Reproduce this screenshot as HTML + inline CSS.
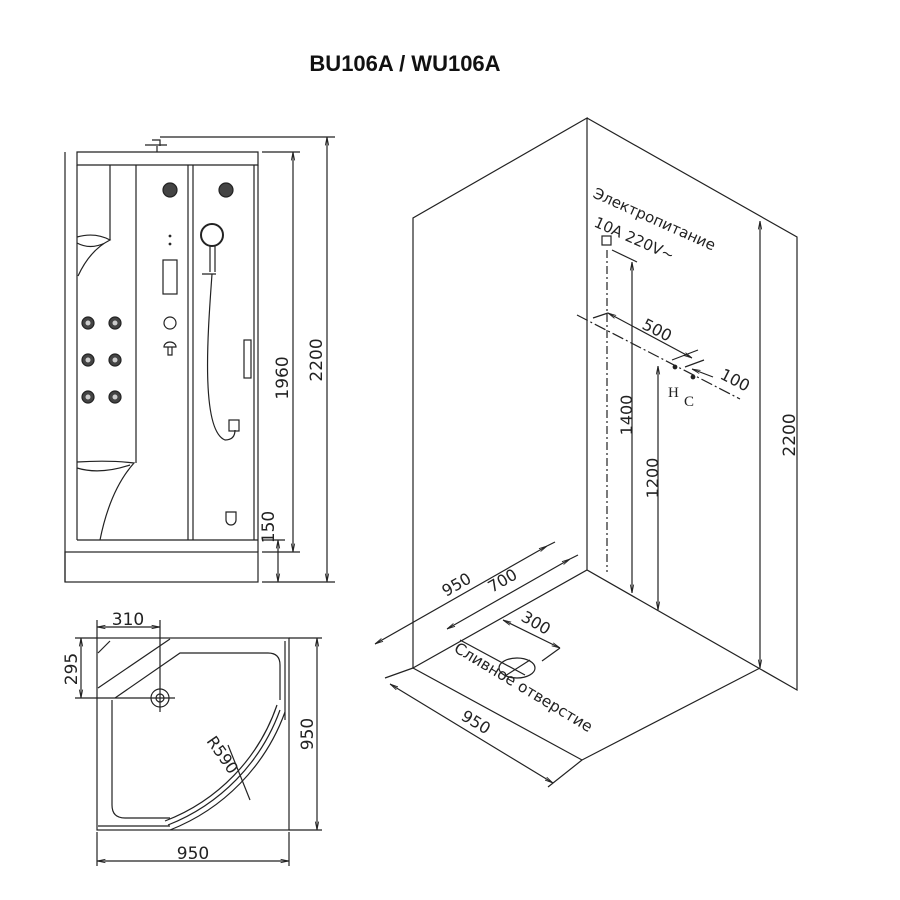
<!DOCTYPE html>
<html><head><meta charset="utf-8"><style>
html,body{margin:0;padding:0;background:#fff;width:900px;height:900px;overflow:hidden}
svg{display:block}
text{font-family:"DejaVu Sans","Liberation Sans",sans-serif;fill:#222}
</style></head><body>
<svg width="900" height="900" viewBox="0 0 900 900" xmlns="http://www.w3.org/2000/svg">
<defs>
<marker id="a" viewBox="0 0 10 10" refX="10" refY="5" markerWidth="7" markerHeight="7" orient="auto-start-reverse"><path d="M0,3 L10,5 L0,7" fill="none" stroke="#222" stroke-width="1"/></marker>
</defs>
<text x="405" y="71" text-anchor="middle" style="font-family:'Liberation Sans',sans-serif;font-weight:bold;font-size:22px;fill:#111">BU106A / WU106A</text>

<g stroke="#222" stroke-width="1.2" fill="none">
<path d="M145,145 h22 M152,140 h8 v6 M157,146 v6"/>
<path d="M77,152 H258 V165 H77 Z"/>
<line x1="65" y1="152" x2="65" y2="582"/>
<line x1="77" y1="165" x2="77" y2="540"/>
<rect x="65" y="552" width="193" height="30"/>
<line x1="77" y1="540" x2="258" y2="540"/>
<line x1="258" y1="165" x2="258" y2="552"/>
<line x1="254" y1="165" x2="254" y2="540"/>
<line x1="188" y1="165" x2="188" y2="540"/>
<line x1="193" y1="165" x2="193" y2="540"/>
<line x1="136" y1="165" x2="136" y2="463"/>
<line x1="110" y1="165" x2="110" y2="240"/>
<path d="M77,237 Q95,232 110,240 Q90,250 78,276 M77,243 Q90,250 105,243"/>
<path d="M77,462 Q110,460 134,463 Q110,490 100,540 M77,468 Q100,475 130,465"/>
<g fill="#444"><circle cx="88" cy="323" r="6"/><circle cx="115" cy="323" r="6"/><circle cx="88" cy="360" r="6"/><circle cx="115" cy="360" r="6"/><circle cx="88" cy="397" r="6"/><circle cx="115" cy="397" r="6"/>
<circle cx="170" cy="190" r="7"/><circle cx="226" cy="190" r="7"/></g>
<g fill="#ccc" stroke="none"><circle cx="88" cy="323" r="2.5"/><circle cx="115" cy="323" r="2.5"/><circle cx="88" cy="360" r="2.5"/><circle cx="115" cy="360" r="2.5"/><circle cx="88" cy="397" r="2.5"/><circle cx="115" cy="397" r="2.5"/></g>
<circle cx="170" cy="236" r="0.8"/><circle cx="170" cy="244" r="0.8"/>
<rect x="163" y="260" width="14" height="34"/>
<circle cx="170" cy="323" r="6"/>
<path d="M164,347 a6,5 0 0 1 12,0 Z M168,347 v8 h4 v-8"/>
<circle cx="212" cy="235" r="11" stroke-width="2"/>
<path d="M210,246 v26 M215,246 v26 M202,274 h14"/>
<path d="M212,274 C208,330 200,430 225,440 Q235,440 235,430"/>
<rect x="229" y="420" width="10" height="11"/>
<path d="M226,512 h10 v8 a5,5 0 0 1 -10,0 Z"/>
<rect x="244" y="340" width="7" height="38"/>
<line x1="160" y1="137" x2="335" y2="137"/>
<line x1="262" y1="152" x2="300" y2="152"/>
<line x1="262" y1="582" x2="335" y2="582"/>
<line x1="262" y1="552" x2="300" y2="552"/>
<line x1="293" y1="152" x2="293" y2="552" marker-start="url(#a)" marker-end="url(#a)"/>
<line x1="327" y1="137" x2="327" y2="582" marker-start="url(#a)" marker-end="url(#a)"/>
<line x1="278" y1="540" x2="278" y2="582" marker-start="url(#a)" marker-end="url(#a)"/>
<line x1="262" y1="540" x2="285" y2="540"/>

<rect x="97" y="638" width="192" height="192"/>
<line x1="285" y1="641" x2="285" y2="720"/>
<path d="M98,688 L170,639 M98,653 L110,641"/>
<path d="M115,698 L180,653 H268 Q280,653 280,665 V700"/>
<path d="M112,700 V805 Q112,818 125,818 H170"/>
<path d="M285,712 A200,200 0 0 1 170,830 M280,710 A195,195 0 0 1 168,825 M277,705 A190,190 0 0 1 165,821"/>
<line x1="98" y1="826" x2="170" y2="826"/>
<circle cx="160" cy="698" r="9"/><circle cx="160" cy="698" r="4"/>
<line x1="160" y1="620" x2="160" y2="712"/>
<line x1="75" y1="698" x2="175" y2="698"/>
<line x1="75" y1="638" x2="97" y2="638"/>
<line x1="97" y1="620" x2="97" y2="638"/>
<line x1="97" y1="627" x2="160" y2="627" marker-start="url(#a)" marker-end="url(#a)"/>
<line x1="81" y1="638" x2="81" y2="698" marker-start="url(#a)" marker-end="url(#a)"/>
<line x1="289" y1="638" x2="322" y2="638"/>
<line x1="289" y1="830" x2="322" y2="830"/>
<line x1="317" y1="638" x2="317" y2="830" marker-start="url(#a)" marker-end="url(#a)"/>
<line x1="97" y1="832" x2="97" y2="866"/>
<line x1="289" y1="832" x2="289" y2="866"/>
<line x1="97" y1="861" x2="289" y2="861" marker-start="url(#a)" marker-end="url(#a)"/>
<line x1="228" y1="745" x2="250" y2="800"/>

<path d="M413,668 V218 L587,118 V570 M587,118 L797,237 V690 L587,570 L413,668 L582,760 L760,668"/>
<line x1="607" y1="250" x2="607" y2="572" stroke-dasharray="8,3,2,3"/>
<rect x="602" y="236" width="9" height="9"/>
<line x1="612" y1="250" x2="637" y2="262"/>
<line x1="632" y1="262" x2="632" y2="593" marker-start="url(#a)" marker-end="url(#a)"/>
<line x1="658" y1="366" x2="658" y2="610" marker-start="url(#a)" marker-end="url(#a)"/>
<line x1="760" y1="221" x2="760" y2="668" marker-start="url(#a)" marker-end="url(#a)"/>
<line x1="577" y1="315" x2="740" y2="399" stroke-dasharray="12,3,2,3"/>
<line x1="593" y1="318" x2="608" y2="313"/>
<line x1="608" y1="313" x2="692" y2="358" marker-start="url(#a)" marker-end="url(#a)"/>
<line x1="672" y1="360" x2="698" y2="350"/>
<line x1="685" y1="367" x2="704" y2="360"/>
<line x1="692" y1="369" x2="713" y2="377" marker-start="url(#a)"/>
<circle cx="675" cy="367" r="1.8" fill="#222"/><circle cx="693" cy="377" r="1.8" fill="#222"/>
<line x1="375" y1="644" x2="547" y2="546" marker-start="url(#a)" marker-end="url(#a)"/>
<line x1="547" y1="546" x2="555" y2="542"/><line x1="570" y1="559" x2="578" y2="555"/>
<line x1="447" y1="629" x2="570" y2="559" marker-start="url(#a)" marker-end="url(#a)"/>
<line x1="503" y1="620" x2="560" y2="648" marker-start="url(#a)" marker-end="url(#a)"/>
<line x1="560" y1="648" x2="542" y2="661"/>
<line x1="460" y1="640" x2="525" y2="675"/>
<ellipse cx="517" cy="668" rx="18" ry="10"/>
<line x1="505" y1="676" x2="530" y2="660"/>
<line x1="390" y1="684" x2="553" y2="783" marker-start="url(#a)" marker-end="url(#a)"/>
<line x1="385" y1="678" x2="413" y2="668"/>
<line x1="548" y1="787" x2="582" y2="760"/>
</g>

<g font-size="17">
<text transform="translate(288,378) rotate(-90)" text-anchor="middle">1960</text>
<text transform="translate(322,360) rotate(-90)" text-anchor="middle">2200</text>
<text transform="translate(274,527) rotate(-90)" text-anchor="middle">150</text>
<text x="128" y="625" text-anchor="middle">310</text>
<text transform="translate(77,669) rotate(-90)" text-anchor="middle">295</text>
<text transform="translate(313,734) rotate(-90)" text-anchor="middle">950</text>
<text x="193" y="859" text-anchor="middle">950</text>
<text transform="translate(206,741) rotate(55)" font-size="16">R590</text>
<text transform="translate(632,415) rotate(-90)" text-anchor="middle" font-size="16">1400</text>
<text transform="translate(658,478) rotate(-90)" text-anchor="middle" font-size="16">1200</text>
<text transform="translate(795,435) rotate(-90)" text-anchor="middle">2200</text>
<text transform="translate(592,197) rotate(24)" font-size="15">Электропитание</text>
<text transform="translate(593,226) rotate(24)" font-size="15">10A 220V~</text>
<text transform="translate(641,328) rotate(27)" font-size="16">500</text>
<text transform="translate(719,378) rotate(27)" font-size="16">100</text>
<text x="668" y="397" font-size="15" style="font-family:'Liberation Serif',serif">H</text>
<text x="684" y="406" font-size="15" style="font-family:'Liberation Serif',serif">C</text>
<text transform="translate(446,597) rotate(-30)" font-size="16">950</text>
<text transform="translate(492,593) rotate(-30)" font-size="16">700</text>
<text transform="translate(520,620) rotate(30)" font-size="16">300</text>
<text transform="translate(453,651) rotate(31)" font-size="15.5">Сливное отверстие</text>
<text transform="translate(460,719) rotate(31)" font-size="16">950</text>
</g>
</svg>
</body></html>
